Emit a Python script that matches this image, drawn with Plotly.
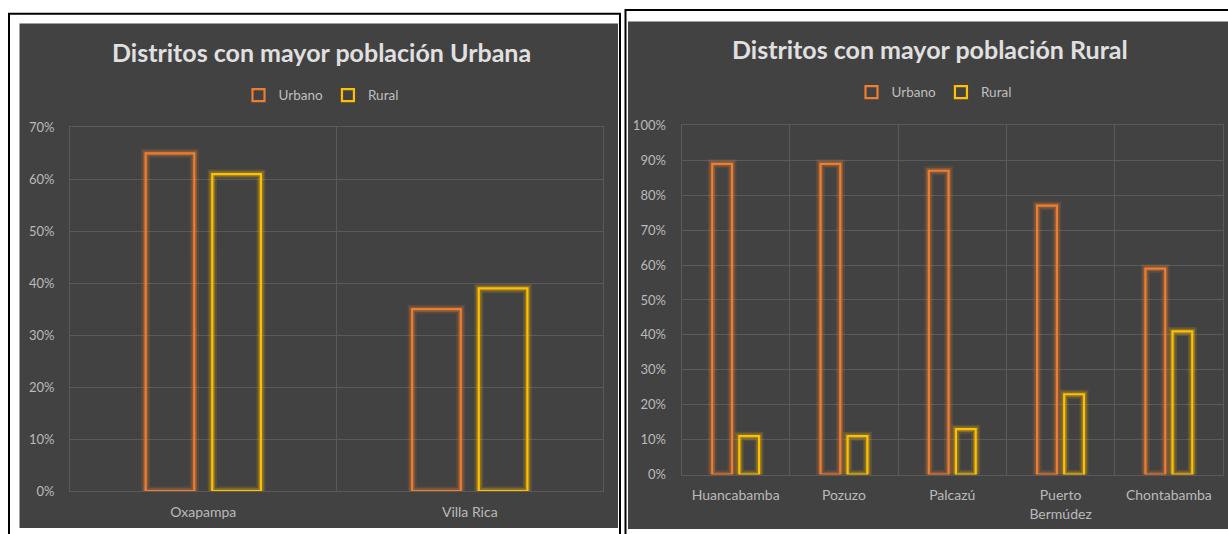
import plotly.graph_objects as go

W, H = 1228, 534

# ---- data ----
left_title = "Distritos con mayor población Urbana"
left_categories = ["Oxapampa", "Villa Rica"]
left_urbano = [0.65, 0.35]
left_rural = [0.61, 0.39]
left_ticks = [0, 0.1, 0.2, 0.3, 0.4, 0.5, 0.6, 0.7]

right_title = "Distritos con mayor población Rural"
right_categories = ["Huancabamba", "Pozuzo", "Palcazú", "Puerto<br>Bermúdez", "Chontabamba"]
right_urbano = [0.89, 0.89, 0.87, 0.77, 0.59]
right_rural = [0.11, 0.11, 0.13, 0.23, 0.41]
right_ticks = [0, 0.1, 0.2, 0.3, 0.4, 0.5, 0.6, 0.7, 0.8, 0.9, 1.0]

series_names = ["Urbano", "Rural"]

# ---- style ----
FONT = "Lato"
BG = "#424242"
GRID = "#5a5a5a"
TICK_COLOR = "#bababa"
TITLE_COLOR = "#e0e0e0"
COLORS = {"Urbano": "#ED7D31", "Rural": "#FFC000"}
GLOW_RGB = {"Urbano": "237,125,49", "Rural": "255,192,0"}
GLOW_LAYERS = [(9, 0.14), (5.5, 0.28)]

fig = go.Figure()


def add_chart(categories, urbano, rural, xa, ya, legend):
    for name, vals in zip(series_names, [urbano, rural]):
        for width, alpha in GLOW_LAYERS:
            fig.add_trace(go.Bar(
                x=categories, y=vals, xaxis=xa, yaxis=ya,
                offsetgroup=name, showlegend=False, hoverinfo="skip",
                marker=dict(color="rgba(0,0,0,0)",
                            line=dict(color=f"rgba({GLOW_RGB[name]},{alpha})", width=width)),
            ))
        fig.add_trace(go.Bar(
            x=categories, y=vals, xaxis=xa, yaxis=ya, name=name,
            offsetgroup=name, legend=legend,
            marker=dict(color="rgba(0,0,0,0)", line=dict(color=COLORS[name], width=2.2)),
        ))


add_chart(left_categories, left_urbano, left_rural, "x", "y", "legend")
add_chart(right_categories, right_urbano, right_rural, "x2", "y2", "legend2")


def px_x(v):
    return v / W


def px_y(v):
    return 1 - v / H


xaxis_common = dict(
    type="category", tickson="boundaries", showgrid=True, gridcolor=GRID, gridwidth=1,
    showline=True, mirror=True, linecolor=GRID, linewidth=1, ticks="",
    tickfont=dict(family=FONT, size=14, color=TICK_COLOR), ticklabelstandoff=8,
    fixedrange=True,
)
yaxis_common = dict(
    tickformat=".0%", showgrid=True, gridcolor=GRID, gridwidth=1, zeroline=False,
    showline=True, mirror=True, linecolor=GRID, linewidth=1, ticks="",
    tickfont=dict(family=FONT, size=13, color=TICK_COLOR), ticklabelstandoff=12,
    fixedrange=True,
)

fig.update_layout(
    width=W, height=H,
    margin=dict(l=0, r=0, t=0, b=0),
    paper_bgcolor="white", plot_bgcolor="rgba(0,0,0,0)",
    barmode="group", bargap=0.5, bargroupgap=0.27,
    font=dict(family=FONT),
    xaxis=dict(domain=[px_x(70), px_x(603)], anchor="y", **xaxis_common),
    yaxis=dict(domain=[px_y(498), px_y(123)], anchor="x", range=[0, 0.7],
               tickvals=left_ticks, **yaxis_common),
    xaxis2=dict(domain=[px_x(681.5), px_x(1223)], anchor="y2", **xaxis_common),
    yaxis2=dict(domain=[px_y(481), px_y(121)], anchor="x2", range=[0, 1.0],
                tickvals=right_ticks, **yaxis_common),
    legend=dict(orientation="h", x=px_x(321), xanchor="center", y=px_y(90), yanchor="middle",
                font=dict(family=FONT, size=13.5, color="#bfbfbf"), bgcolor="rgba(0,0,0,0)",
                itemwidth=30, traceorder="normal"),
    legend2=dict(orientation="h", x=px_x(934), xanchor="center", y=px_y(87), yanchor="middle",
                 font=dict(family=FONT, size=13.5, color="#bfbfbf"), bgcolor="rgba(0,0,0,0)",
                 itemwidth=30, traceorder="normal"),
    annotations=[
        dict(text=left_title, x=px_x(321.5), y=px_y(45), xref="paper", yref="paper",
             xanchor="center", yanchor="middle", showarrow=False,
             font=dict(family=FONT, size=25, color=TITLE_COLOR, weight="bold")),
        dict(text=right_title, x=px_x(930.5), y=px_y(42), xref="paper", yref="paper",
             xanchor="center", yanchor="middle", showarrow=False,
             font=dict(family=FONT, size=25, color=TITLE_COLOR, weight="bold")),
    ],
    shapes=[
        dict(type="rect", xref="paper", yref="paper", layer="below",
             x0=px_x(19.5), x1=px_x(618), y0=px_y(536), y1=px_y(16),
             fillcolor=BG, line=dict(width=0)),
        dict(type="rect", xref="paper", yref="paper", layer="below",
             x0=px_x(628), x1=px_x(1230), y0=px_y(537), y1=px_y(14),
             fillcolor=BG, line=dict(width=0)),
        dict(type="rect", xref="paper", yref="paper", layer="above",
             x0=px_x(9), x1=px_x(620), y0=px_y(580), y1=px_y(6),
             line=dict(color="black", width=2)),
        dict(type="rect", xref="paper", yref="paper", layer="above",
             x0=px_x(625.5), x1=px_x(1240), y0=px_y(580), y1=px_y(2),
             line=dict(color="black", width=2)),
    ],
)

fig.write_html("out.html")
